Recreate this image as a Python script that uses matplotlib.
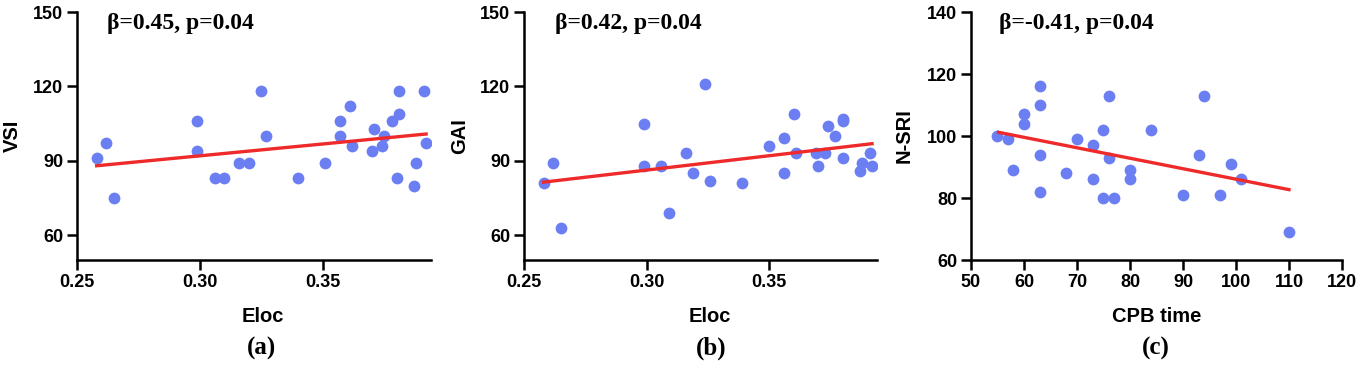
import numpy as np
import matplotlib.pyplot as plt

plt.rcParams['font.family'] = ['Liberation Sans', 'DejaVu Sans']

# panel (a): Eloc vs VSI
eloc_a = [0.258, 0.262, 0.265, 0.299, 0.299, 0.306, 0.310, 0.316, 0.320, 0.325,
          0.327, 0.340, 0.351, 0.357, 0.357, 0.361, 0.362, 0.370, 0.371, 0.374,
          0.375, 0.378, 0.380, 0.381, 0.381, 0.387, 0.388, 0.391, 0.392]
vsi = [91, 97, 75, 106, 94, 83, 83, 89, 89, 118,
       100, 83, 89, 106, 100, 112, 96, 94, 103, 96,
       100, 106, 83, 118, 109, 80, 89, 118, 97]
fit_a_x = [0.258, 0.392]
fit_a_y = [88.0, 100.8]

# panel (b): Eloc vs GAI
eloc_b = [0.258, 0.262, 0.265, 0.299, 0.299, 0.306, 0.309, 0.316, 0.319, 0.324,
          0.326, 0.339, 0.350, 0.356, 0.356, 0.360, 0.361, 0.369, 0.370, 0.373,
          0.374, 0.377, 0.380, 0.380, 0.380, 0.387, 0.388, 0.391, 0.392]
gai = [81, 89, 63, 105, 88, 88, 69, 93, 85, 121,
       82, 81, 96, 99, 85, 109, 93, 93, 88, 93,
       104, 100, 91, 107, 106, 86, 89, 93, 88]
fit_b_x = [0.258, 0.392]
fit_b_y = [81.4, 96.9]

# panel (c): CPB time vs N-SRI
cpb = [55, 57, 58, 60, 60, 63, 63, 63, 63, 68, 70, 73, 73, 75,
       75, 76, 76, 77, 80, 80, 84, 90, 93, 94, 97, 99, 101, 110]
nsri = [100, 99, 89, 107, 104, 116, 110, 94, 82, 88, 99, 97, 86, 102,
        80, 113, 93, 80, 89, 86, 102, 81, 94, 113, 81, 91, 86, 69]
fit_c_x = [55.2, 110]
fit_c_y = [101.2, 82.7]

panels = [
    dict(x=eloc_a, y=vsi, fx=fit_a_x, fy=fit_a_y, xlabel='Eloc', ylabel='VSI',
         note='β=0.45, p=0.04', cap='(a)', xlim=(0.25, 0.394), ylim=(50, 150),
         xticks=[0.25, 0.30, 0.35], yticks=[60, 90, 120, 150], xfmt='{:.2f}',
         rect=[0.0563, 0.2896, 0.259, 0.6776], notex=0.085, xlx=0.525, cx=262),
    dict(x=eloc_b, y=gai, fx=fit_b_x, fy=fit_b_y, xlabel='Eloc', ylabel='GAI',
         note='β=0.42, p=0.04', cap='(b)', xlim=(0.25, 0.394), ylim=(50, 150),
         xticks=[0.25, 0.30, 0.35], yticks=[60, 90, 120, 150], xfmt='{:.2f}',
         rect=[0.3833, 0.2896, 0.2582, 0.6776], notex=0.088, xlx=0.527, cx=711),
    dict(x=cpb, y=nsri, fx=fit_c_x, fy=fit_c_y, xlabel='CPB time', ylabel='N-SRI',
         note='β=-0.41, p=0.04', cap='(c)', xlim=(50, 120), ylim=(60, 140),
         xticks=list(range(50, 121, 10)), yticks=list(range(60, 141, 20)), xfmt='{:.0f}',
         rect=[0.7103, 0.2896, 0.2714, 0.6776], notex=0.075, xlx=0.501, cx=1156),
]

fig = plt.figure(figsize=(13.67, 3.66), dpi=100)

for p in panels:
    ax = fig.add_axes(p['rect'])
    ax.scatter(p['x'], p['y'], s=72, color='#6B7EF2', zorder=3, linewidths=0)
    ax.plot(p['fx'], p['fy'], color='#EE2A2A', lw=2.4, zorder=4)
    ax.set_xlim(*p['xlim'])
    ax.set_ylim(*p['ylim'])
    ax.set_xticks(p['xticks'])
    ax.set_xticklabels([p['xfmt'].format(v) for v in p['xticks']])
    ax.set_yticks(p['yticks'])
    ax.spines['top'].set_visible(False)
    ax.spines['right'].set_visible(False)
    for s in ['left', 'bottom']:
        ax.spines[s].set_linewidth(1.8)
    ax.tick_params(length=7, width=1.8, pad=3, labelsize=13)
    for lab in ax.get_xticklabels() + ax.get_yticklabels():
        lab.set_fontweight('bold')
    ax.set_xlabel(p['xlabel'], fontsize=14.5, fontweight='bold')
    ax.set_ylabel(p['ylabel'], fontsize=14.5, fontweight='bold')
    ax.xaxis.set_label_coords(p['xlx'], -0.19)
    ax.yaxis.set_label_coords(-0.155, 0.5)
    ax.text(p['notex'], 0.955, p['note'], transform=ax.transAxes, va='center',
            ha='left', fontsize=17, fontweight='bold', family='Liberation Serif')
    fig.text(p['cx'] / 1367, 1 - 348 / 366, p['cap'], ha='center', va='center',
             fontsize=18, fontweight='bold', family='Liberation Serif')

fig.savefig('out.png', dpi=100)
